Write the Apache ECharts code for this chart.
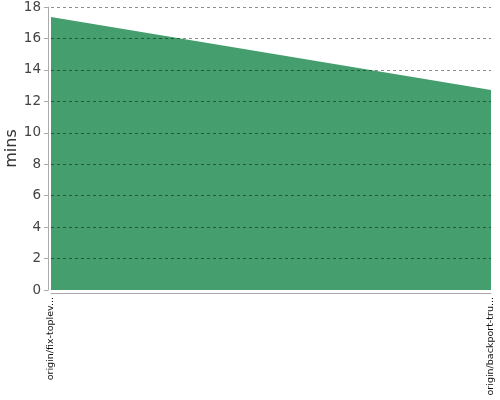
<!DOCTYPE html>
<html>
<head>
<meta charset="utf-8">
<script src="https://cdn.jsdelivr.net/npm/echarts@6/dist/echarts.min.js"></script>
<style>
  html, body { margin: 0; padding: 0; background: #fff; }
  #chart { width: 500px; height: 400px; }
</style>
</head>
<body>
<div id="chart"></div>
<script>
// branches (labels already truncated as shown)
var branches = ['origin/fix-toplev...', 'origin/backport-tru...'];
// build time in minutes
var buildMins = [17.37, 12.72];
var yTicks = { min: 0, max: 18, interval: 2 };

var chart = echarts.init(document.getElementById('chart'));

var option = {
  animation: false,
  grid: { left: 51, right: 9, top: 7, bottom: 110, outerBoundsMode: 'none', containLabel: false },
  xAxis: {
    type: 'category',
    data: branches,
    boundaryGap: false,
    offset: 3,
    axisLine: { show: true, onZero: false, lineStyle: { color: '#aaa', width: 1 } },
    axisTick: { show: false },
    axisLabel: {
      rotate: 90,
      fontSize: 9.5,
      color: '#111',
      fontFamily: 'DejaVu Sans',
      margin: 4
    }
  },
  yAxis: {
    type: 'value',
    min: yTicks.min,
    max: yTicks.max,
    interval: yTicks.interval,
    offset: 3,
    // draw axis + grid lines above the area
    z: 5,
    name: 'mins',
    nameLocation: 'middle',
    nameGap: 28,
    nameMoveOverlap: false,
    nameTextStyle: { fontSize: 16, color: '#333', fontFamily: 'DejaVu Sans' },
    axisLine: { show: true, onZero: false, lineStyle: { color: '#aaa', width: 1 } },
    axisTick: { show: true, inside: false, length: 4, lineStyle: { color: '#aaa' } },
    axisLabel: { fontSize: 13.5, color: '#444', fontFamily: 'DejaVu Sans', margin: 7 },
    splitLine: { showMinLine: false, lineStyle: { color: 'rgba(0,0,0,0.45)', type: [3, 3], width: 1 } }
  },
  series: [{
    type: 'line',
    data: buildMins,
    symbol: 'none',
    lineStyle: { width: 0 },
    areaStyle: { color: '#459e6e', opacity: 1 }
  }]
};

chart.setOption(option);
</script>
</body>
</html>
